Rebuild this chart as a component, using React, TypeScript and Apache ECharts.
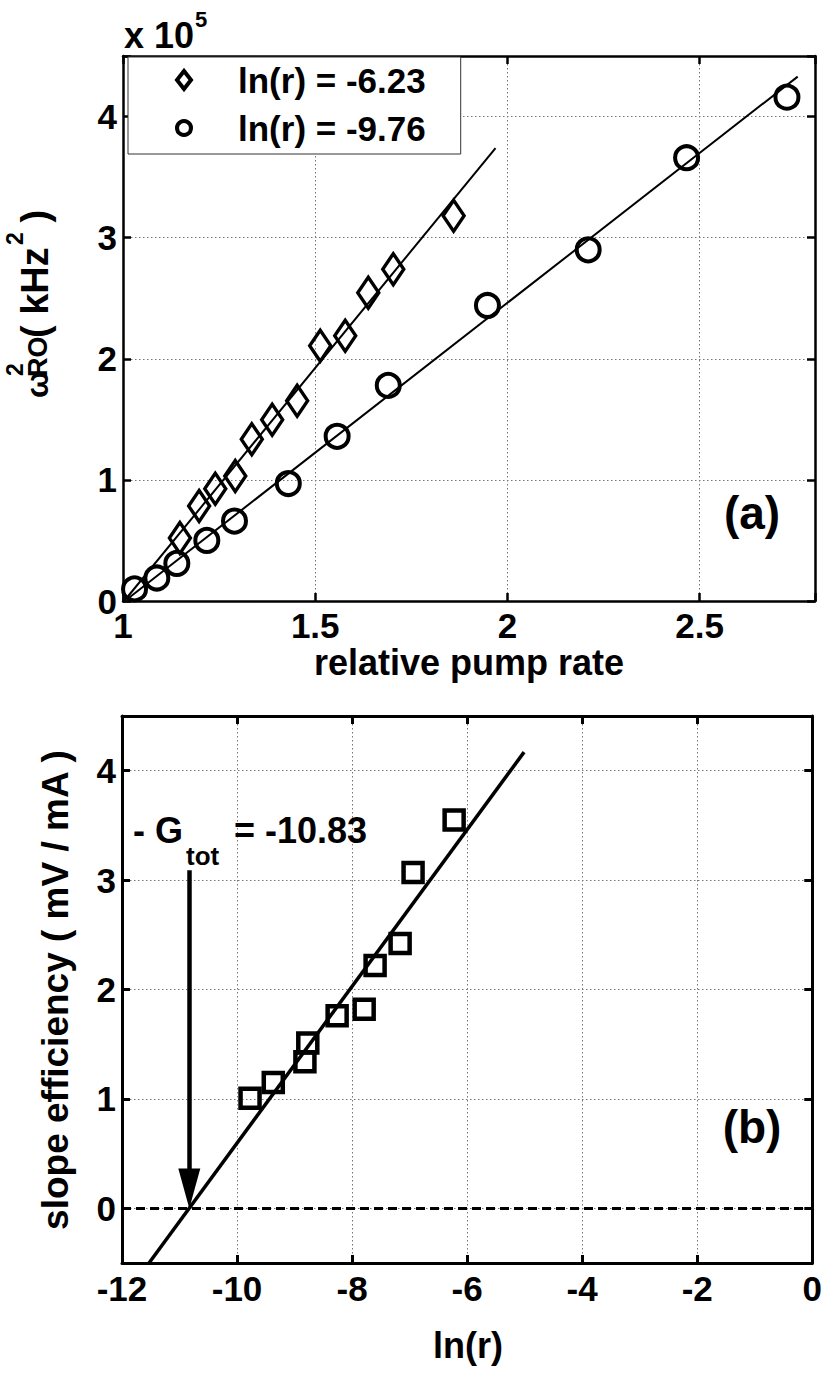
import React, { useEffect, useRef } from 'react';
import * as echarts from 'echarts';

// ---------- data ----------
const legendNames = ['ln(r) = -6.23', 'ln(r) = -9.76'];

// panel (a): relative pump rate vs omega_RO^2 (x 1e5 kHz^2)
const pumpDiamond = [1.148, 1.198, 1.240, 1.292, 1.335, 1.388, 1.453, 1.513, 1.578, 1.638, 1.703, 1.860];
const omegaDiamond = [0.52, 0.785, 0.926, 1.033, 1.335, 1.496, 1.653, 2.107, 2.19, 2.545, 2.74, 3.18];
const pumpCircle = [1.03, 1.088, 1.14, 1.218, 1.29, 1.43, 1.557, 1.69, 1.948, 2.21, 2.466, 2.727];
const omegaCircle = [0.10, 0.19, 0.31, 0.50, 0.66, 0.97, 1.36, 1.78, 2.44, 2.90, 3.66, 4.16];
const fitDiamondX = [1.003, 1.969];
const fitDiamondY = [0.0, 3.74];
const fitCircleX = [1.013, 2.755];
const fitCircleY = [0.02, 4.33];

// panel (b): ln(r) vs slope efficiency
const lnR = [-9.774, -9.37, -8.82, -8.77, -8.26, -7.79, -7.6, -7.165, -6.94, -6.226];
const slopeEff = [1.006, 1.15, 1.34, 1.51, 1.76, 1.82, 2.22, 2.42, 3.07, 3.55];
const fitBX = [-11.53, -5.01];
const fitBY = [-0.5, 4.17];
const gTot = -10.83;
const arrowTop = 3.09;
const arrowEnd = 0.18;

// axes
const axA = { xMin: 1, xMax: 2.8, xStep: 0.5, yMin: 0, yMax: 4.5, yStep: 1 };
const axB = { xMin: -12, xMax: 0, xStep: 2, yMin: -0.5, yMax: 4.5 };

const F = "'Liberation Sans', Arial, Helvetica, sans-serif";

const isMult = (v: number, s: number) => Math.abs(v / s - Math.round(v / s)) < 1e-6;

function axisCommon(lw: number) {
  return {
    axisLine: { show: true, onZero: false, lineStyle: { color: '#000', width: lw } },
    axisTick: { show: true, inside: true, length: 8, lineStyle: { color: '#000', width: lw } },
  };
}

const labelStyle = { fontFamily: F, fontSize: 35, fontWeight: 'bold', color: '#000' };
const splitStyle = { show: true, lineStyle: { color: '#777', width: 1, type: [1.5, 2.5] } };

function txt(x: number, y: number, text: string, size: number, align = 'left', va = 'middle', extra: any = {}) {
  return {
    type: 'text',
    x,
    y,
    silent: true,
    z: 100,
    ...extra,
    style: {
      text,
      fontSize: size,
      fontWeight: 'bold',
      fontFamily: F,
      fill: '#000',
      lineHeight: Math.round(size * 0.8),
      align,
      verticalAlign: va,
      textAlign: align,
      textVerticalAlign: va,
    },
  };
}

const zip = (xs: number[], ys: number[]) => xs.map((x, i) => [x, ys[i]]);

const markerStyle = (bw: number) => ({ color: 'rgba(0,0,0,0)', borderColor: '#000', borderWidth: bw, opacity: 1 });

export default function App() {
  const ref = useRef<HTMLDivElement>(null);
  useEffect(() => {
    if (!ref.current) return;
    const chart = echarts.init(ref.current, null, { renderer: 'svg' });
    const option: any = {
      animation: false,
      backgroundColor: '#fff',
      grid: [
        { left: 123, top: 56, width: 692, height: 545 },
        { left: 122, top: 716, width: 693, height: 547 },
      ],
      xAxis: [
        {
          gridIndex: 0, type: 'value', position: 'bottom', min: axA.xMin, max: axA.xMax, interval: axA.xStep,
          ...axisCommon(2.5),
          axisLabel: { ...labelStyle, lineHeight: 26, margin: 11, formatter: (v: number) => (isMult(v, axA.xStep) ? String(v) : '') },
          splitLine: splitStyle,
        },
        {
          gridIndex: 0, type: 'value', position: 'top', min: axA.xMin, max: axA.xMax, interval: axA.xStep,
          ...axisCommon(2.5), axisLabel: { show: false }, splitLine: { show: false },
        },
        {
          gridIndex: 1, type: 'value', position: 'bottom', min: axB.xMin, max: axB.xMax, interval: axB.xStep,
          ...axisCommon(3),
          axisLabel: { ...labelStyle, margin: 8 },
          splitLine: splitStyle,
        },
        {
          gridIndex: 1, type: 'value', position: 'top', min: axB.xMin, max: axB.xMax, interval: axB.xStep,
          ...axisCommon(3), axisLabel: { show: false }, splitLine: { show: false },
        },
      ],
      yAxis: [
        {
          gridIndex: 0, type: 'value', position: 'left', min: axA.yMin, max: axA.yMax, interval: axA.yStep,
          ...axisCommon(2.5),
          axisLabel: { ...labelStyle, margin: 6, formatter: (v: number) => (isMult(v, 1) ? String(v) : '') },
          splitLine: splitStyle,
        },
        {
          gridIndex: 0, type: 'value', position: 'right', min: axA.yMin, max: axA.yMax, interval: axA.yStep,
          ...axisCommon(2.5), axisLabel: { show: false }, splitLine: { show: false },
        },
        {
          gridIndex: 1, type: 'value', position: 'left', min: axB.yMin, max: axB.yMax, splitNumber: 5,
          ...axisCommon(3),
          axisLabel: { ...labelStyle, margin: 6, formatter: (v: number) => (isMult(v, 1) ? String(v) : '') },
          splitLine: splitStyle,
        },
        {
          gridIndex: 1, type: 'value', position: 'right', min: axB.yMin, max: axB.yMax, splitNumber: 5,
          ...axisCommon(3), axisLabel: { show: false }, splitLine: { show: false },
        },
      ],
      legend: {
        data: [
          { name: legendNames[0], icon: 'path://M7,0L14,9L7,18L0,9Z' },
          { name: legendNames[1], icon: 'circle' },
        ],
        orient: 'vertical',
        left: 128,
        top: 57,
        itemWidth: 14,
        itemHeight: 18,
        itemGap: 12,
        padding: [5, 35, 8, 47],
        backgroundColor: '#fff',
        borderColor: '#333',
        borderWidth: 1,
        selectedMode: false,
        itemStyle: { color: 'rgba(0,0,0,0)', borderColor: '#000', borderWidth: 4, opacity: 1 },
        textStyle: { ...labelStyle, lineHeight: 36, padding: [0, 0, 0, 42] },
        z: 10,
      },
      series: [
        {
          name: legendNames[0], type: 'scatter', xAxisIndex: 0, yAxisIndex: 0,
          data: zip(pumpDiamond, omegaDiamond), symbol: 'diamond', symbolSize: [21, 31],
          itemStyle: markerStyle(3.5),
          silent: true,
        },
        {
          name: legendNames[1], type: 'scatter', xAxisIndex: 0, yAxisIndex: 0,
          data: zip(pumpCircle, omegaCircle), symbol: 'circle', symbolSize: 23,
          itemStyle: markerStyle(4),
          silent: true,
        },
        {
          name: 'fitDiamond', type: 'line', xAxisIndex: 0, yAxisIndex: 0,
          data: zip(fitDiamondX, fitDiamondY), showSymbol: false, symbol: 'none',
          lineStyle: { color: '#000', width: 2 }, silent: true,
        },
        {
          name: 'fitCircle', type: 'line', xAxisIndex: 0, yAxisIndex: 0,
          data: zip(fitCircleX, fitCircleY), showSymbol: false, symbol: 'none',
          lineStyle: { color: '#000', width: 2 }, silent: true,
        },
        {
          name: 'slope', type: 'scatter', xAxisIndex: 2, yAxisIndex: 2,
          data: zip(lnR, slopeEff), symbol: 'rect', symbolSize: 19,
          itemStyle: markerStyle(4.5),
          silent: true,
        },
        {
          name: 'fitB', type: 'line', xAxisIndex: 2, yAxisIndex: 2,
          data: zip(fitBX, fitBY), showSymbol: false, symbol: 'none',
          lineStyle: { color: '#000', width: 3.5 }, silent: true,
          markLine: {
            silent: true,
            symbol: ['none', 'none'],
            label: { show: false },
            emphasis: { disabled: true },
            data: [
              { yAxis: 0, lineStyle: { color: '#000', width: 3, type: [9, 5] } },
              [
                { coord: [gTot, arrowTop], symbol: 'none', lineStyle: { color: '#000', width: 4.5, type: 'solid' } },
                { coord: [gTot, arrowEnd], symbol: 'triangle', symbolSize: [22, 40] },
              ],
            ],
          },
        },
      ],
      graphic: [
        txt(124, 35, 'x 10', 36),
        txt(195, 19.5, '5', 22),
        txt(469, 662, 'relative pump rate', 36, 'center'),
        txt(752, 513, '(a)', 46, 'center'),
        {
          type: 'group',
          x: 48,
          y: 398,
          rotation: Math.PI / 2,
          z: 100,
          children: [
            txt(0, -11, 'ω', 32),
            txt(22, -33, '2', 23),
            txt(21, -10, 'RO', 27),
            txt(60, -13, '( kHz', 38),
            txt(153, -33, '2', 23),
            txt(165, -13, ' )', 38),
          ],
        },
        txt(55, 990, 'slope efficiency ( mV / mA )', 37, 'center', 'middle', { rotation: Math.PI / 2 }),
        txt(133, 830, '- G', 36),
        txt(186, 856, 'tot', 26),
        txt(234, 830, '= -10.83', 36),
        txt(752, 1127, '(b)', 46, 'center'),
        txt(468, 1345, 'ln(r)', 36, 'center'),
      ],
    };
    chart.setOption(option);
    return () => chart.dispose();
  }, []);
  return <div ref={ref} style={{ position: 'absolute', left: 0, top: 0, width: 825, height: 1374 }} />;
}
